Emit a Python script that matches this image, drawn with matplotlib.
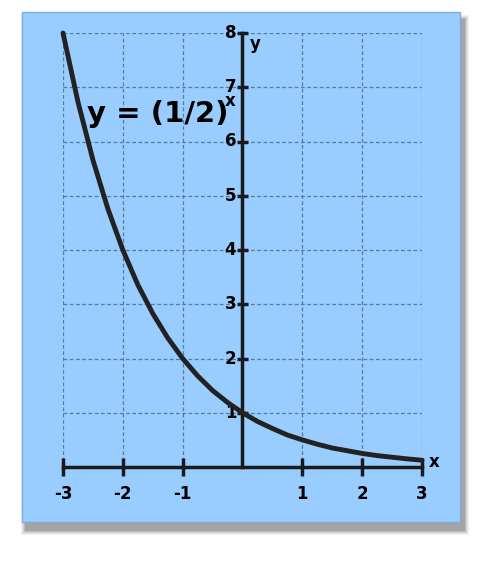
import matplotlib
matplotlib.use("Agg")
import matplotlib.pyplot as plt
from matplotlib.patches import Rectangle

x_vals = [-3, -2.75, -2.5, -2.25, -2, -1.75, -1.5, -1.25, -1, -0.75, -0.5, -0.25, 0,
          0.25, 0.5, 0.75, 1, 1.25, 1.5, 1.75, 2, 2.25, 2.5, 2.75, 3]
y_vals = [8, 6.73, 5.66, 4.76, 4, 3.36, 2.83, 2.38, 2, 1.68, 1.41, 1.19, 1,
          0.84, 0.71, 0.59, 0.5, 0.42, 0.35, 0.30, 0.25, 0.21, 0.18, 0.15, 0.125]
x_ticks = [-3, -2, -1, 1, 2, 3]
y_ticks = [1, 2, 3, 4, 5, 6, 7, 8]

W, H = 502, 565
fig = plt.figure(figsize=(W/100, H/100), dpi=100)
fig.patch.set_facecolor('white')
# shadow
for i, a in enumerate([0.05, 0.06, 0.08, 0.1, 0.12]):
    d = 10 - 2*i
    fig.patches.append(Rectangle(((22+4-d/2)/W, 1-(522+8+d/2)/H), (438+d)/W, (510+d)/H,
                                 transform=fig.transFigure, facecolor='black', alpha=a,
                                 edgecolor='none', zorder=-3))
fig.patches.append(Rectangle((22/W, 1-522/H), 438/W, 510/H, transform=fig.transFigure,
                             facecolor='#99ccff', edgecolor='#7aaee0', zorder=-2))

ax = fig.add_axes([63/W, 1-467/H, 359/W, 434/H])
ax.set_zorder(5)
ax.set_facecolor('none')
ax.set_xlim(-3, 3)
ax.set_ylim(0, 8)
for s in ax.spines.values():
    s.set_visible(False)
ax.set_xticks([]); ax.set_yticks([])
for t in x_ticks:
    ax.axvline(t, color='#5a7a99', ls=(0, (3, 2)), lw=0.9, zorder=1)
for t in y_ticks:
    ax.axhline(t, color='#5a7a99', ls=(0, (3, 2)), lw=0.9, zorder=1)
ax.axhline(0, color='#1a1a1a', lw=2.5, zorder=3, clip_on=False)
ax.axvline(0, color='#1a1a1a', lw=2.5, zorder=3, clip_on=False)
ax.vlines(x_ticks, -0.17, 0.17, color='#1a1a1a', lw=2.5, zorder=3, clip_on=False)
ax.hlines(y_ticks, -0.1, 0.1, color='#1a1a1a', lw=2.5, zorder=3, clip_on=False)
ax.plot(x_vals, y_vals, color='#222222', lw=3.5, zorder=4, solid_capstyle='round', clip_on=False)

for t in x_ticks:
    ax.text(t, -0.5, str(t), ha='center', va='center', fontsize=12, fontweight='bold')
for t in y_ticks:
    ax.text(-0.2, t, str(t), ha='center', va='center', fontsize=12, fontweight='bold')
ax.text(3.12, 0.1, 'x', fontsize=12, fontweight='bold', va='center')
ax.text(0.12, 7.8, 'y', fontsize=12, fontweight='bold', va='center')
ax.text(-2.6, 6.5, r'y = (1/2)', fontsize=21, fontweight='bold', va='center')
ax.text(-0.3, 6.75, 'x', fontsize=12, fontweight='bold', va='center')
fig.savefig('out.png', dpi=100)
